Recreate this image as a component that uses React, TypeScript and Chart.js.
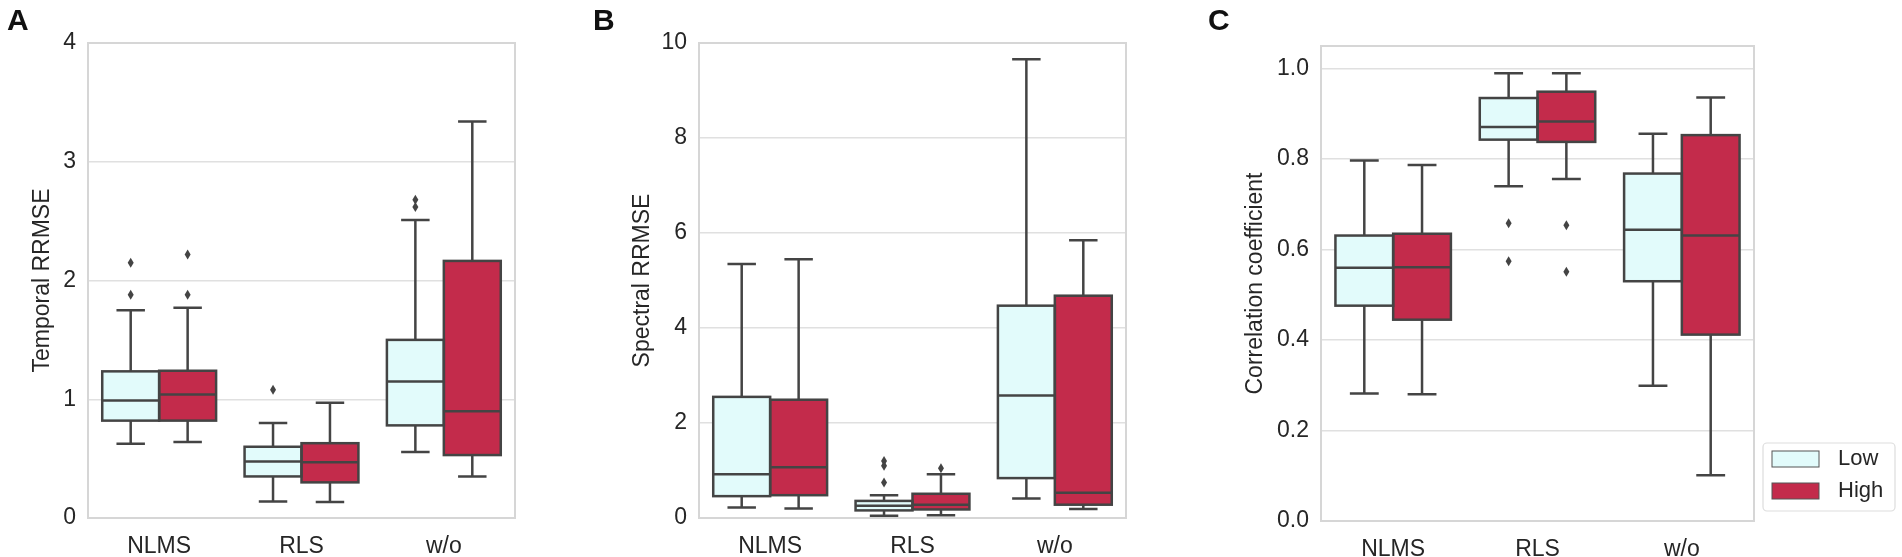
import { useEffect, useRef } from "react"
import { Chart, registerables, type Plugin } from "chart.js"

Chart.register(...registerables)

const FONT = "'Liberation Sans', Arial, Helvetica, sans-serif"
const TEXT = "#262626"
const LINE = "#444444"

const categories = ["NLMS", "RLS", "w/o"]
const seriesNames = ["Low", "High"]
const fillColors = ["#e2fbfb", "#c32b4b"]

// each row: [whisker low, q1, median, q3, whisker high]
const temporalLow = [
  [0.625, 0.82, 0.99, 1.235, 1.75],
  [0.14, 0.35, 0.475, 0.6, 0.8],
  [0.555, 0.78, 1.15, 1.5, 2.51],
]
const temporalHigh = [
  [0.64, 0.82, 1.04, 1.24, 1.77],
  [0.135, 0.3, 0.47, 0.63, 0.97],
  [0.35, 0.53, 0.9, 2.165, 3.34],
]
const temporalLowOutliers = [[2.15, 1.88], [1.08], [2.68, 2.62]]
const temporalHighOutliers = [[2.22, 1.88], [], []]
const temporalTicks = [0, 1, 2, 3, 4]

const spectralLow = [
  [0.22, 0.46, 0.92, 2.55, 5.35],
  [0.05, 0.16, 0.26, 0.36, 0.48],
  [0.41, 0.84, 2.58, 4.47, 9.66],
]
const spectralHigh = [
  [0.2, 0.48, 1.07, 2.49, 5.45],
  [0.06, 0.18, 0.28, 0.51, 0.92],
  [0.19, 0.28, 0.53, 4.68, 5.85],
]
const spectralLowOutliers = [[], [1.2, 1.1, 0.75], []]
const spectralHighOutliers = [[], [1.05], []]
const spectralTicks = [0, 2, 4, 6, 8, 10]

const corrLow = [
  [0.282, 0.476, 0.56, 0.631, 0.797],
  [0.74, 0.843, 0.871, 0.935, 0.99],
  [0.299, 0.53, 0.644, 0.768, 0.856],
]
const corrHigh = [
  [0.28, 0.445, 0.561, 0.635, 0.787],
  [0.756, 0.838, 0.883, 0.949, 0.99],
  [0.101, 0.412, 0.631, 0.853, 0.936],
]
const corrLowOutliers = [[], [0.658, 0.574], []]
const corrHighOutliers = [[], [0.654, 0.551], []]
const corrTicks = [0, 0.2, 0.4, 0.6, 0.8, 1.0]

interface PanelSpec {
  letter: string
  yTitle: string
  yMax: number
  ticks: number[]
  decimals: number
  low: number[][]
  high: number[][]
  lowOut: number[][]
  highOut: number[][]
  left: number
  width: number
  axisWidth: number
  padTop: number
  padRight: number
  axisHeight: number
  titlePad: number
  letterX: number
  legend: boolean
}

const panels: PanelSpec[] = [
  {
    letter: "A", yTitle: "Temporal RRMSE", yMax: 4, ticks: temporalTicks, decimals: 0,
    low: temporalLow, high: temporalHigh, lowOut: temporalLowOutliers, highOut: temporalHighOutliers,
    left: 0, width: 530, axisWidth: 88, padTop: 43, padRight: 15, axisHeight: 39, titlePad: 29, letterX: 7, legend: false,
  },
  {
    letter: "B", yTitle: "Spectral RRMSE", yMax: 10, ticks: spectralTicks, decimals: 0,
    low: spectralLow, high: spectralHigh, lowOut: spectralLowOutliers, highOut: spectralHighOutliers,
    left: 590, width: 550, axisWidth: 109, padTop: 43, padRight: 14, axisHeight: 39, titlePad: 39, letterX: 3, legend: false,
  },
  {
    letter: "C", yTitle: "Correlation coefficient", yMax: 1.05, ticks: corrTicks, decimals: 1,
    low: corrLow, high: corrHigh, lowOut: corrLowOutliers, highOut: corrHighOutliers,
    left: 1200, width: 702, axisWidth: 121, padTop: 46, padRight: 148, axisHeight: 36, titlePad: 42, letterX: 8, legend: true,
  },
]

function boxPlugin(spec: PanelSpec): Plugin<"bar"> {
  return {
    id: "boxParts" + spec.letter,
    beforeDatasetsDraw(chart) {
      const { ctx, chartArea } = chart
      ctx.save()
      ctx.strokeStyle = "#d6d6d6"
      ctx.lineWidth = 2
      ctx.strokeRect(chartArea.left, chartArea.top, chartArea.right - chartArea.left, chartArea.bottom - chartArea.top)
      ctx.restore()
    },
    afterDatasetsDraw(chart) {
      const { ctx } = chart
      const y = chart.scales.y
      ctx.save()
      ctx.strokeStyle = LINE
      ctx.fillStyle = LINE
      ctx.lineWidth = 2.5
      chart.data.datasets.forEach((ds: any, d) => {
        const meta = chart.getDatasetMeta(d)
        meta.data.forEach((bar: any, i) => {
          const [lo, q1, med, q3, hi] = ds.summary[i]
          const { x, width } = bar.getProps(["x", "width"], true)
          const left = x - width / 2
          const yq1 = y.getPixelForValue(q1)
          const yq3 = y.getPixelForValue(q3)
          const ylo = y.getPixelForValue(lo)
          const yhi = y.getPixelForValue(hi)
          const ymed = y.getPixelForValue(med)
          // whiskers and caps
          ctx.beginPath()
          ctx.moveTo(x, yq1)
          ctx.lineTo(x, ylo)
          ctx.moveTo(x, yq3)
          ctx.lineTo(x, yhi)
          ctx.moveTo(x - width / 4, ylo)
          ctx.lineTo(x + width / 4, ylo)
          ctx.moveTo(x - width / 4, yhi)
          ctx.lineTo(x + width / 4, yhi)
          ctx.stroke()
          ctx.strokeRect(left, yq3, width, yq1 - yq3)
          ctx.beginPath()
          ctx.moveTo(left, ymed)
          ctx.lineTo(left + width, ymed)
          ctx.stroke()
          ds.outliers[i].forEach((v: number) => {
            const py = y.getPixelForValue(v)
            ctx.beginPath()
            ctx.moveTo(x, py - 5)
            ctx.lineTo(x + 3, py)
            ctx.lineTo(x, py + 5)
            ctx.lineTo(x - 3, py)
            ctx.closePath()
            ctx.fill()
          })
        })
      })
      ctx.restore()
    },
    afterDraw(chart) {
      const { ctx } = chart
      ctx.save()
      ctx.fillStyle = "#111111"
      ctx.font = `bold 30px ${FONT}`
      ctx.textBaseline = "alphabetic"
      ctx.fillText(spec.letter, spec.letterX, 30)
      if (spec.legend) {
        const fx = chart.chartArea.right + 9
        const fy = 443
        ctx.beginPath()
        ctx.roundRect(fx, fy, 132, 68, 4)
        ctx.fillStyle = "rgba(255,255,255,0.85)"
        ctx.fill()
        ctx.strokeStyle = "#dddddd"
        ctx.lineWidth = 1.2
        ctx.stroke()
        chart.data.datasets.forEach((ds: any, d) => {
          const top = fy + 8 + d * 32
          ctx.fillStyle = ds.backgroundColor
          ctx.fillRect(fx + 9, top, 47, 16)
          ctx.strokeStyle = "#555555"
          ctx.lineWidth = 1
          ctx.strokeRect(fx + 9, top, 47, 16)
          ctx.fillStyle = TEXT
          ctx.font = `22px ${FONT}`
          ctx.textBaseline = "middle"
          ctx.fillText(ds.label, fx + 75, top + 8)
        })
      }
      ctx.restore()
    },
  }
}

function BoxPanel({ spec }: { spec: PanelSpec }) {
  const canvasRef = useRef<HTMLCanvasElement>(null)
  const chartInstance = useRef<Chart | null>(null)

  useEffect(() => {
    if (!canvasRef.current) return
    if (chartInstance.current) chartInstance.current.destroy()

    const summaries = [spec.low, spec.high]
    const outliers = [spec.lowOut, spec.highOut]

    chartInstance.current = new Chart(canvasRef.current, {
      type: "bar",
      data: {
        labels: categories,
        datasets: seriesNames.map((name, s) => ({
          label: name,
          data: summaries[s].map((row) => [row[1], row[3]] as [number, number]),
          backgroundColor: fillColors[s],
          borderWidth: 0,
          categoryPercentage: 0.8,
          barPercentage: 1,
          summary: summaries[s],
          outliers: outliers[s],
        })) as any,
      },
      options: {
        animation: false,
        responsive: true,
        maintainAspectRatio: false,
        events: [],
        layout: { padding: { top: spec.padTop, right: spec.padRight, left: 0, bottom: 0 } },
        plugins: { legend: { display: false }, tooltip: { enabled: false } },
        scales: {
          x: {
            grid: { display: false },
            border: { display: false },
            ticks: { color: TEXT, font: { family: FONT, size: 23 }, padding: 7 },
            afterFit: (scale) => {
              scale.height = spec.axisHeight
            },
          },
          y: {
            min: 0,
            max: spec.yMax,
            grid: { color: "#e0e0e0", lineWidth: 1.5, drawTicks: false },
            border: { display: false },
            ticks: {
              color: TEXT,
              font: { family: FONT, size: 23 },
              padding: 12,
              callback: (v) => Number(v).toFixed(spec.decimals),
            },
            afterBuildTicks: (scale) => {
              scale.ticks = spec.ticks.map((value) => ({ value }))
            },
            title: {
              display: true,
              text: spec.yTitle,
              color: TEXT,
              font: { family: FONT, size: 23 },
              padding: { top: spec.titlePad, bottom: 0 },
            },
            afterFit: (scale) => {
              scale.width = spec.axisWidth
            },
          },
        },
      },
      plugins: [boxPlugin(spec)],
    })

    return () => {
      if (chartInstance.current) {
        chartInstance.current.destroy()
        chartInstance.current = null
      }
    }
  }, [spec])

  return (
    <div style={{ position: "absolute", left: spec.left, top: 0, width: spec.width, height: 557 }}>
      <canvas ref={canvasRef} />
    </div>
  )
}

export default function App() {
  return (
    <div style={{ position: "absolute", left: 0, top: 0, width: 1902, height: 557, background: "#ffffff", overflow: "hidden" }}>
      {panels.map((p) => (
        <BoxPanel key={p.letter} spec={p} />
      ))}
    </div>
  )
}
